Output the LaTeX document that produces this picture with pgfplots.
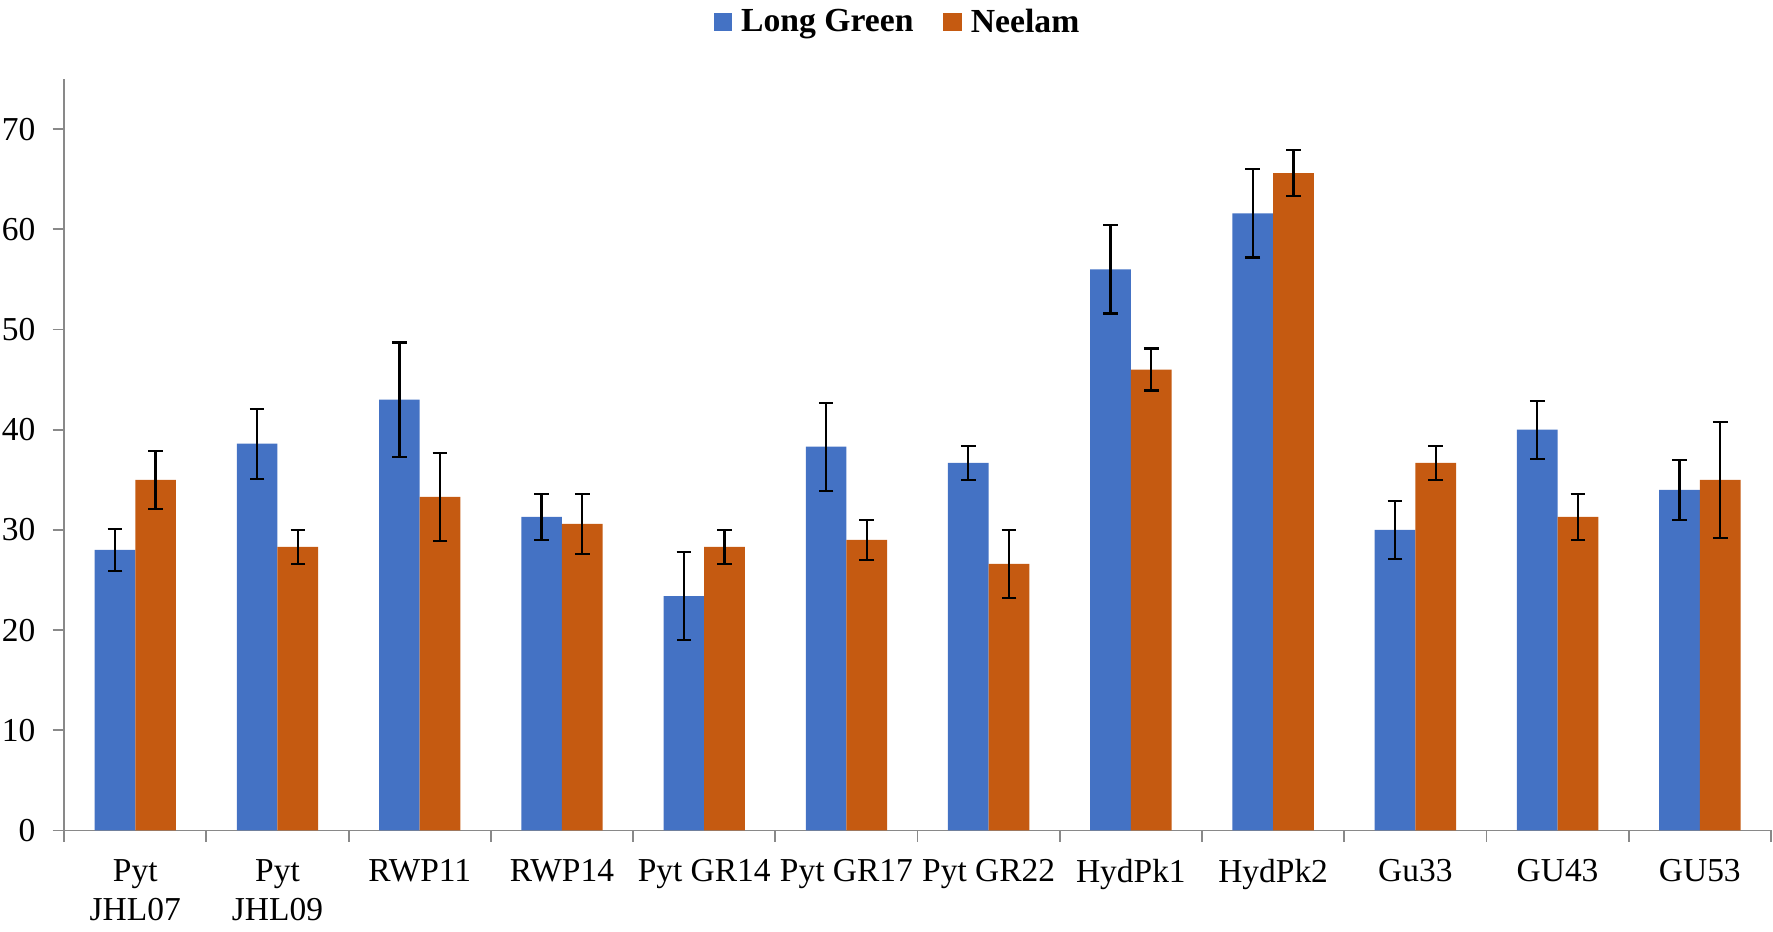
\documentclass[border=0pt]{standalone}
\usepackage{pgfplots}
\pgfplotsset{compat=1.18}
\usepackage{pgfplotstable}
\usepackage{fontspec}
\setmainfont{Liberation Serif}
\definecolor{lgblue}{HTML}{4472C4}
\definecolor{neorange}{HTML}{C55A11}
\definecolor{axgray}{HTML}{898989}

% mean and error for each accession
\pgfplotstableread{
x  lg   lgerr ne   neerr
1  28.0 2.1   35.0 2.9
2  38.6 3.5   28.3 1.7
3  43.0 5.7   33.3 4.4
4  31.3 2.3   30.6 3.0
5  23.4 4.4   28.3 1.7
6  38.3 4.4   29.0 2.0
7  36.7 1.7   26.6 3.4
8  56.0 4.4   46.0 2.1
9  61.6 4.4   65.6 2.3
10 30.0 2.9   36.7 1.7
11 40.0 2.9   31.3 2.3
12 34.0 3.0   35.0 5.8
}\data

\begin{document}
\begin{tikzpicture}
\begin{axis}[
  scale only axis, width=745pt, height=328pt,
  ybar=0pt, bar width=0.286,
  xmin=0.5, xmax=12.5, ymin=0, ymax=75,
  axis x line=bottom, axis y line=left,
  axis line style={-, axgray, line width=0.8pt},
  xtick={1,...,12},
  xticklabels={{Pyt\\JHL07},{Pyt\\JHL09},RWP11,RWP14,Pyt GR14,Pyt GR17,Pyt GR22,HydPk1,HydPk2,Gu33,GU43,GU53},
  x tick label style={align=center, font=\rmfamily\fontsize{14.6}{17}\selectfont, anchor=north, yshift=-4pt},
  major x tick style={draw=none},
  minor xtick={0.5,1.5,...,12.5},
  ytick={0,10,...,70},
  y tick label style={font=\rmfamily\fontsize{14.6}{17}\selectfont, xshift=-4pt},
  /pgf/number format/assume math mode=true,
  tick align=outside,
  tick style={axgray, line width=0.8pt},
  major tick length=5pt, minor tick length=5pt,
  legend style={at={(0.489,1)}, anchor=center, yshift=24.8pt, draw=none,
    font=\fontsize{14.7}{17}\selectfont\bfseries,
    /tikz/every even column/.append style={column sep=11pt}},
  legend columns=2,
  legend image code/.code={\fill[#1] (0pt,-4pt) rectangle (8pt,4pt);},
  error bars/y dir=both, error bars/y explicit,
  error bars/error bar style={draw=black, line width=1pt},
  error bars/error mark options={rotate=90, draw=black, mark size=3.2pt, line width=1pt},
]
\addplot[fill=lgblue, draw=none] table[x=x, y=lg, y error=lgerr]{\data};
\addplot[fill=neorange, draw=none] table[x=x, y=ne, y error=neerr]{\data};
\legend{\hspace{2pt}Long Green, \hspace{2pt}Neelam}
\end{axis}
\pgfresetboundingbox
\path[use as bounding box] ([xshift=-28pt,yshift=-44.1pt]current axis.south west) rectangle ([xshift=0.9pt,yshift=34.5pt]current axis.north east);
\end{tikzpicture}
\end{document}
